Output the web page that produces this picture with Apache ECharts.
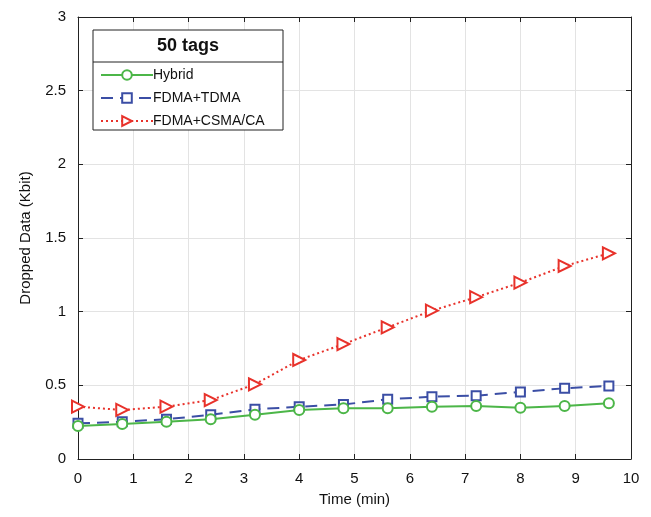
<!DOCTYPE html>
<html>
<head>
<meta charset="utf-8">
<script src="https://cdn.jsdelivr.net/npm/echarts@6/dist/echarts.min.js"></script>
<style>html,body{margin:0;padding:0;background:#fff;}#c{width:651px;height:517px;}</style>
</head>
<body>
<div id="c"></div>
<script>
const times = [0, 0.8, 1.6, 2.4, 3.2, 4.0, 4.8, 5.6, 6.4, 7.2, 8.0, 8.8, 9.6];
const hybrid = [0.224, 0.238, 0.253, 0.27, 0.30, 0.333, 0.344, 0.344, 0.355, 0.36, 0.348, 0.36, 0.378];
const fdmaTdma = [0.242, 0.253, 0.27, 0.30, 0.337, 0.355, 0.37, 0.405, 0.423, 0.43, 0.455, 0.48, 0.496];
const fdmaCsma = [0.355, 0.333, 0.355, 0.40, 0.507, 0.672, 0.78, 0.894, 1.007, 1.098, 1.197, 1.31, 1.396];
const seriesNames = ['Hybrid', 'FDMA+TDMA', 'FDMA+CSMA/CA'];
const legendTitle = '50 tags';
const xLabel = 'Time (min)';
const yLabel = 'Dropped Data (Kbit)';

const pair = (ys) => times.map((t, i) => [t, ys[i]]);
const font = 'Liberation Sans, Arial, sans-serif';
const chart = echarts.init(document.getElementById('c'), null, {renderer: 'canvas'});
const axisCommon = {
  axisLine: {show: true, onZero: false, lineStyle: {color: '#222', width: 1}},
  axisTick: {show: true, inside: true, length: 5, lineStyle: {color: '#222'}},
  axisLabel: {color: '#111', fontSize: 15, fontFamily: font},
};
chart.setOption({
  animation: false,
  backgroundColor: '#fff',
  grid: {left: 78, right: 20, top: 17, bottom: 58, show: false},
  xAxis: [
    Object.assign({}, axisCommon, {
      type: 'value', min: 0, max: 10, interval: 1, position: 'bottom',
      name: xLabel, nameLocation: 'middle', nameGap: 33,
      nameTextStyle: {color: '#111', fontSize: 15, fontFamily: font},
      axisLabel: {color: '#111', fontSize: 15, fontFamily: font, margin: 12},
      splitLine: {show: true, lineStyle: {color: '#e3e3e3', width: 1}}
    }),
    Object.assign({}, axisCommon, {
      type: 'value', min: 0, max: 10, interval: 1, position: 'top',
      axisLabel: {show: false}, splitLine: {show: false}
    })
  ],
  yAxis: [
    Object.assign({}, axisCommon, {
      type: 'value', min: 0, max: 3, interval: 0.5, position: 'left',
      name: yLabel, nameLocation: 'middle', nameGap: 45,
      nameTextStyle: {color: '#111', fontSize: 15, fontFamily: font},
      axisLabel: {color: '#111', fontSize: 15, fontFamily: font, margin: 12},
      splitLine: {show: true, lineStyle: {color: '#e3e3e3', width: 1}}
    }),
    Object.assign({}, axisCommon, {
      type: 'value', min: 0, max: 3, interval: 0.5, position: 'right',
      axisLabel: {show: false}, splitLine: {show: false}
    })
  ],
  graphic: [
    {type: 'rect', x: 93, y: 30, shape: {x: 0, y: 0, width: 190, height: 100},
     style: {fill: '#fff', stroke: '#222', lineWidth: 1}, z: 90},
    {type: 'line', shape: {x1: 93, y1: 62, x2: 283, y2: 62},
     style: {stroke: '#222', lineWidth: 1}, z: 91},
    {type: 'text', x: 188, y: 46, style: {text: legendTitle, align: 'center', verticalAlign: 'middle',
      font: 'bold 18px Liberation Sans, Arial, sans-serif', fill: '#111'}, z: 92}
  ],
  legend: {
    left: 95, top: 63, orient: 'vertical', itemGap: 9,
    itemWidth: 52, itemHeight: 12, z: 95,
    textStyle: {color: '#111', fontSize: 14, fontFamily: font, padding: [0, 0, 0, -5]},
    data: seriesNames
  },
  series: [
    {name: seriesNames[0], type: 'line', data: pair(hybrid), z: 5,
     symbol: 'emptyCircle', symbolSize: 10,
     lineStyle: {color: '#4cb648', width: 2},
     itemStyle: {color: '#4cb648', borderWidth: 2}},
    {name: seriesNames[1], type: 'line', data: pair(fdmaTdma), z: 4,
     symbol: 'emptyRect', symbolSize: 9,
     lineStyle: {color: '#3b4ea5', width: 2, type: [12, 7]},
     itemStyle: {color: '#3b4ea5', borderWidth: 2}},
    {name: seriesNames[2], type: 'line', data: pair(fdmaCsma), z: 3,
     symbol: 'emptyTriangle', symbolSize: 12, symbolRotate: -90,
     lineStyle: {color: '#e8322b', width: 2, type: [2, 3]},
     itemStyle: {color: '#e8322b', borderWidth: 2}}
  ]
});
</script>
</body>
</html>
